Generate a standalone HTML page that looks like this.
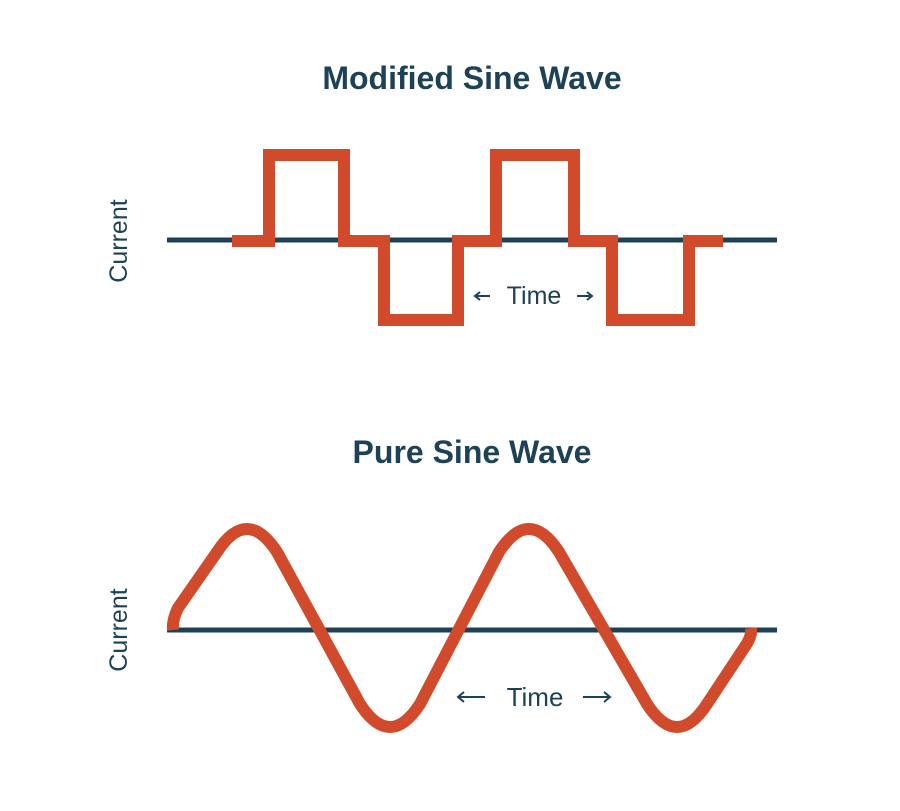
<!DOCTYPE html>
<html><head><style>body{margin:0;background:#fff}</style></head><body>
<svg width="900" height="806" viewBox="0 0 900 806" xmlns="http://www.w3.org/2000/svg" font-family="Liberation Sans, sans-serif">
<rect width="900" height="806" fill="#fff"/>
<text x="472" y="89" text-anchor="middle" font-size="32" font-weight="bold" fill="#1d4258">Modified Sine Wave</text>
<text x="472" y="463" text-anchor="middle" font-size="32" font-weight="bold" fill="#1d4258">Pure Sine Wave</text>
<text transform="translate(127,241) rotate(-90)" text-anchor="middle" font-size="25" fill="#1d4258">Current</text>
<text transform="translate(127,630) rotate(-90)" text-anchor="middle" font-size="25" fill="#1d4258">Current</text>
<line x1="167" y1="240" x2="777" y2="240" stroke="#1d4258" stroke-width="5"/>
<path d="M232,241 H269 V155 H344 V241 H384 V320 H458 V241 H496 V155 H574 V241 H612 V320 H689 V241 H723" fill="none" stroke="#d14a2b" stroke-width="12"/>
<text x="534" y="304" text-anchor="middle" font-size="25" fill="#1d4258">Time</text>
<g stroke="#1d4258" stroke-width="2" fill="none">
<path d="M475,296 H490 M480,292 L475,296 L480,300"/>
<path d="M577,296 H592 M587,292 L592,296 L587,300"/>
<path d="M458,697 H485 M464,692 L458,697 L464,702"/>
<path d="M583,697 H610 M604,692 L610,697 L604,702"/>
</g>
<line x1="167" y1="630" x2="777" y2="630" stroke="#1d4258" stroke-width="5"/>
<path d="M173,630 Q172,620 178,608 L217,552 Q247,506 277,552 L360,704 Q390,750 420,704 L499,552 Q529,506 559,552 L647,704 Q677,750 707,704 L746,645 Q752,636 751,628" fill="none" stroke="#d14a2b" stroke-width="12" stroke-linejoin="round"/>
<text x="535" y="706" text-anchor="middle" font-size="26" fill="#1d4258">Time</text>
</svg>
</body></html>
